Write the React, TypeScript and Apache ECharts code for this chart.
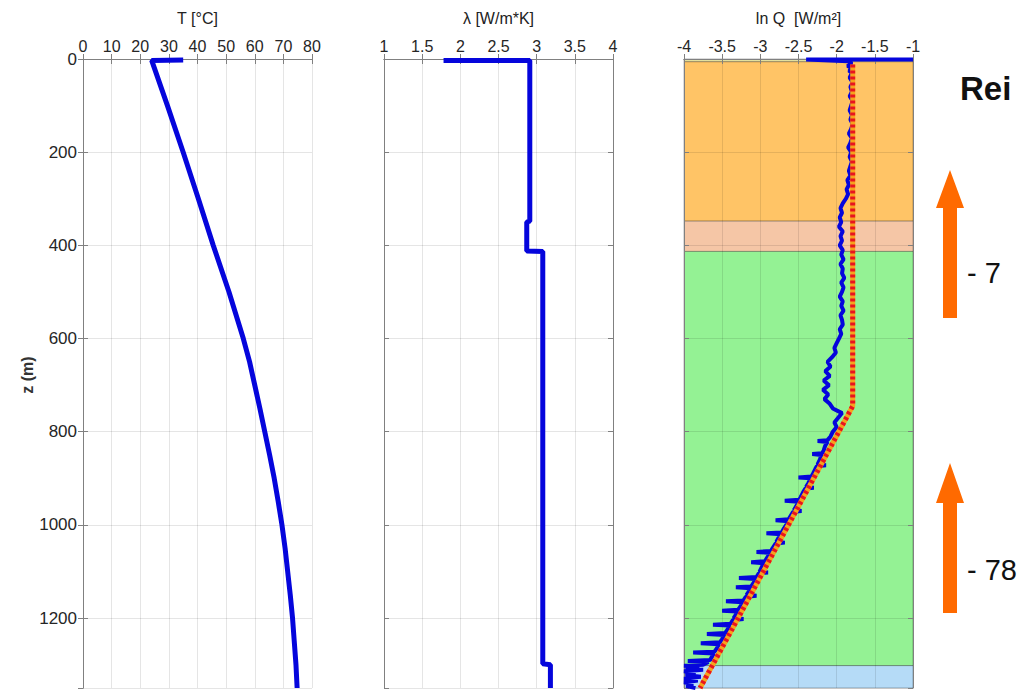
import React, { useEffect, useRef } from "react";
import * as echarts from "echarts";

// Depth axis (m)
const depthMax = 1350;
const depthTicks = [0, 200, 400, 600, 800, 1000, 1200];

// Panel 1: temperature T [°C] vs depth z [m]
const tempPoints: [number, number][] = [
  [35, 2], [24, 3], [29.5, 100], [35, 200], [40.3, 300], [45.5, 400], [51, 500],
  [56, 600], [58.2, 650], [60, 700], [61.8, 750], [63.5, 800], [65.2, 850], [66.8, 900],
  [68.2, 950], [69.5, 1000], [70.6, 1050], [71.5, 1100], [72.4, 1150], [73.2, 1200],
  [73.8, 1250], [74.4, 1300], [74.8, 1350],
];

// Panel 2: thermal conductivity λ [W/m*K] vs depth
const lambdaPoints: [number, number][] = [
  [1.78, 3], [2.91, 3], [2.91, 348], [2.87, 350], [2.87, 412], [3.08, 413],
  [3.08, 1298], [3.18, 1300], [3.18, 1350],
];

// Panel 3: ln Q measured (blue) vs depth
const lnQMeasured: [number, number][] = [
  [-1.0, 1], [-2.4, 1], [-1.85, 5], [-1.8, 10], [-1.86, 15], [-1.78, 20], [-1.84, 25],
  [-1.8, 30], [-1.83, 40], [-1.79, 50], [-1.82, 60], [-1.8, 70], [-1.83, 80], [-1.79, 90],
  [-1.81, 100], [-1.83, 110], [-1.8, 120], [-1.82, 130], [-1.79, 140], [-1.81, 150],
  [-1.84, 160], [-1.8, 170], [-1.82, 180], [-1.85, 190], [-1.81, 200], [-1.83, 210],
  [-1.8, 220], [-1.82, 230], [-1.84, 240], [-1.82, 250], [-1.86, 260], [-1.84, 270],
  [-1.87, 280], [-1.85, 290], [-1.88, 300], [-1.92, 310], [-1.95, 320], [-1.93, 330],
  [-1.96, 340], [-1.94, 350], [-1.97, 360], [-1.92, 370], [-1.95, 380], [-1.93, 390],
  [-1.96, 400], [-1.92, 410], [-1.94, 420], [-1.91, 430], [-1.95, 440], [-1.92, 450],
  [-1.93, 460], [-1.9, 470], [-1.94, 480], [-1.91, 490], [-1.93, 500], [-1.96, 510],
  [-1.92, 520], [-1.94, 530], [-1.91, 540], [-1.95, 550], [-1.93, 560], [-1.92, 570],
  [-1.96, 580], [-1.94, 590], [-1.97, 600], [-2.0, 610], [-2.03, 620], [-2.01, 630],
  [-2.06, 640], [-2.12, 650], [-2.08, 660], [-2.15, 670], [-2.09, 680], [-2.17, 690],
  [-2.1, 700], [-2.18, 710], [-2.11, 720], [-2.16, 730], [-2.09, 740], [-2.05, 750],
  [-1.93, 760], [-1.98, 770], [-2.03, 780], [-2.0, 790], [-2.05, 800], [-2.08, 810],
  [-2.12, 818], [-2.25, 820], [-2.12, 822], [-2.15, 830], [-2.17, 840], [-2.19, 846],
  [-2.32, 848], [-2.2, 850], [-2.22, 860], [-2.25, 870], [-2.14, 872], [-2.26, 874],
  [-2.28, 880], [-2.31, 890], [-2.33, 896], [-2.5, 898], [-2.34, 900], [-2.37, 910],
  [-2.4, 918], [-2.3, 920], [-2.41, 922], [-2.44, 930], [-2.47, 940], [-2.49, 946],
  [-2.68, 948], [-2.5, 950], [-2.53, 960], [-2.56, 968], [-2.46, 970], [-2.57, 972],
  [-2.6, 980], [-2.63, 988], [-2.8, 990], [-2.63, 992], [-2.66, 1000], [-2.7, 1010],
  [-2.72, 1016], [-2.92, 1018], [-2.73, 1020], [-2.77, 1030], [-2.79, 1036], [-2.68, 1038],
  [-2.8, 1040], [-2.84, 1050], [-2.86, 1056], [-3.05, 1058], [-2.87, 1060], [-2.91, 1070],
  [-2.94, 1078], [-3.12, 1080], [-2.95, 1082], [-2.98, 1090], [-3.01, 1100], [-2.9, 1102],
  [-3.02, 1104], [-3.05, 1112], [-3.28, 1114], [-3.06, 1116], [-3.09, 1125], [-3.12, 1132],
  [-3.32, 1134], [-3.13, 1136], [-3.16, 1145], [-3.18, 1150], [-3.05, 1152], [-3.19, 1154],
  [-3.22, 1162], [-3.45, 1164], [-3.23, 1166], [-3.26, 1175], [-3.29, 1182], [-3.5, 1184],
  [-3.3, 1186], [-3.33, 1195], [-3.35, 1200], [-3.22, 1202], [-3.36, 1204], [-3.39, 1212],
  [-3.62, 1214], [-3.4, 1216], [-3.43, 1225], [-3.46, 1232], [-3.7, 1234], [-3.47, 1236],
  [-3.5, 1245], [-3.53, 1252], [-3.78, 1254], [-3.54, 1256], [-3.57, 1265], [-3.6, 1272],
  [-3.88, 1274], [-3.61, 1276], [-3.64, 1285], [-3.66, 1290], [-3.95, 1292], [-3.68, 1294],
  [-3.75, 1300], [-4.0, 1302], [-3.8, 1305], [-3.98, 1308], [-3.75, 1311], [-4.0, 1314],
  [-3.85, 1318], [-3.98, 1322], [-3.78, 1326], [-4.0, 1330], [-3.82, 1334], [-4.0, 1338],
  [-3.88, 1342], [-3.97, 1346], [-3.85, 1350],
];

// Panel 3: ln Q model (red dashed)
const lnQModel: [number, number][] = [
  [-1.79, 12], [-1.79, 745], [-2.12, 845], [-2.45, 945], [-2.78, 1045],
  [-3.11, 1145], [-3.44, 1245], [-3.79, 1350],
];

// Panel 3: lithology bands [from, to, colour]
const bands: [number, number, string][] = [
  [0, 6, "#E3E09E"],
  [6, 348, "#FFC466"],
  [348, 413, "#F5C6A6"],
  [413, 1302, "#94F294"],
  [1302, 1350, "#B5DBF7"],
];

const panelTitles = ["T [°C]", "λ [W/m*K]", "ln Q  [W/m²]"];
const xRanges: [number, number, number][] = [
  [0, 80, 10],
  [1, 4, 0.5],
  [-4, -1, 0.5],
];

const FONT = "'Liberation Sans', Arial, sans-serif";
const BLUE = "#0505DC";

export default function App() {
  const ref = useRef<HTMLDivElement>(null);

  useEffect(() => {
    if (!ref.current) return;
    const chart = echarts.init(ref.current, undefined, { renderer: "svg" });

    const lefts = [83, 384, 684];
    const width = 229;
    const grids = lefts.map((l) => ({ left: l, width, top: 59, height: 629 }));

    const axisLine = { show: true, lineStyle: { color: "#808080", width: 1 } };
    const tick = { show: true, inside: true, length: 5, lineStyle: { color: "#808080" } };
    const split = { show: true, lineStyle: { color: "rgba(0,0,0,0.1)", width: 1 } };

    const xAxes: any[] = [];
    const yAxes: any[] = [];
    xRanges.forEach(([min, max, interval], i) => {
      const z = i === 2 ? 3 : 0;
      xAxes.push({
        type: "value", gridIndex: i, position: "top", min, max, interval, z,
        axisLine, axisTick: tick, splitLine: split,
        axisLabel: { show: true, fontSize: 16, color: "#262626", margin: 5, fontFamily: FONT },
      });
      xAxes.push({
        type: "value", gridIndex: i, position: "bottom", min, max, interval, z,
        axisLine, axisTick: tick, splitLine: { show: false }, axisLabel: { show: false },
      });
      yAxes.push({
        type: "value", gridIndex: i, position: "left", min: 0, max: depthMax, interval: 200,
        inverse: true, z, axisLine, axisTick: tick, splitLine: split,
        axisLabel: {
          show: i === 0, fontSize: 17, color: "#262626", margin: 6, fontFamily: FONT,
          showMaxLabel: false,
          formatter: (v: number) => (depthTicks.includes(v) ? String(v) : ""),
        },
      });
      yAxes.push({
        type: "value", gridIndex: i, position: "right", min: 0, max: depthMax, interval: 200,
        inverse: true, z, axisLine, axisTick: tick, splitLine: { show: false },
        axisLabel: { show: false },
      });
    });

    const arrow = (tip: number, base: number, bottom: number) => ({
      type: "polygon",
      shape: {
        points: [
          [950, tip], [964, base], [957, base], [957, bottom],
          [943, bottom], [943, base], [936, base],
        ],
      },
      style: { fill: "#FF6A00" },
    });

    const option: any = {
      animation: false,
      backgroundColor: "#ffffff",
      grid: grids,
      xAxis: xAxes,
      yAxis: yAxes,
      series: [
        {
          type: "line", xAxisIndex: 0, yAxisIndex: 0, data: tempPoints,
          showSymbol: false, lineStyle: { color: BLUE, width: 5 }, z: 5,
        },
        {
          type: "line", xAxisIndex: 2, yAxisIndex: 2, data: lambdaPoints,
          showSymbol: false, lineStyle: { color: BLUE, width: 5 }, z: 5,
        },
        {
          type: "line", xAxisIndex: 4, yAxisIndex: 4, data: [], z: 1,
          markArea: {
            silent: true,
            z: 1,
            data: bands.map(([a, b, c]) => [
              { yAxis: a, itemStyle: { color: c, borderColor: "rgba(0,0,0,0.28)", borderWidth: 1 } },
              { yAxis: b },
            ]),
          },
        },
        {
          type: "line", xAxisIndex: 4, yAxisIndex: 4, data: lnQMeasured,
          showSymbol: false, lineStyle: { color: BLUE, width: 4 }, z: 5,
        },
        {
          type: "line", xAxisIndex: 4, yAxisIndex: 4, data: lnQModel,
          showSymbol: false, lineStyle: { color: "#F7A31B", width: 5 }, z: 6,
        },
        {
          type: "line", xAxisIndex: 4, yAxisIndex: 4, data: lnQModel,
          showSymbol: false, lineStyle: { color: "#E81420", width: 5, type: [3, 3] }, z: 7,
        },
      ],
      graphic: [
        ...panelTitles.map((t, i) => ({
          type: "text", x: lefts[i] + width / 2, y: 18,
          style: { text: t, fontSize: 16, fill: "#222", fontFamily: FONT, align: "center", verticalAlign: "middle" },
        })),
        {
          type: "text", x: 27, y: 375, rotation: Math.PI / 2,
          style: { text: "z (m)", fontSize: 16, fontWeight: "bold", fill: "#333", fontFamily: FONT, align: "center", verticalAlign: "middle" },
        },
        {
          type: "text", x: 960, y: 88,
          style: { text: "Rei", fontSize: 33, fontWeight: "bold", fill: "#111", fontFamily: FONT, align: "left", verticalAlign: "middle" },
        },
        arrow(170, 208, 318),
        arrow(463, 503, 613),
        {
          type: "text", x: 967, y: 273,
          style: { text: "- 7", fontSize: 29, fill: "#111", fontFamily: FONT, align: "left", verticalAlign: "middle" },
        },
        {
          type: "text", x: 967, y: 570,
          style: { text: "- 78", fontSize: 29, fill: "#111", fontFamily: FONT, align: "left", verticalAlign: "middle" },
        },
      ],
    };

    chart.setOption(option);
    return () => chart.dispose();
  }, []);

  return (
    <div
      ref={ref}
      style={{ position: "fixed", left: 0, top: 0, width: 1019, height: 691, background: "#fff" }}
    />
  );
}
